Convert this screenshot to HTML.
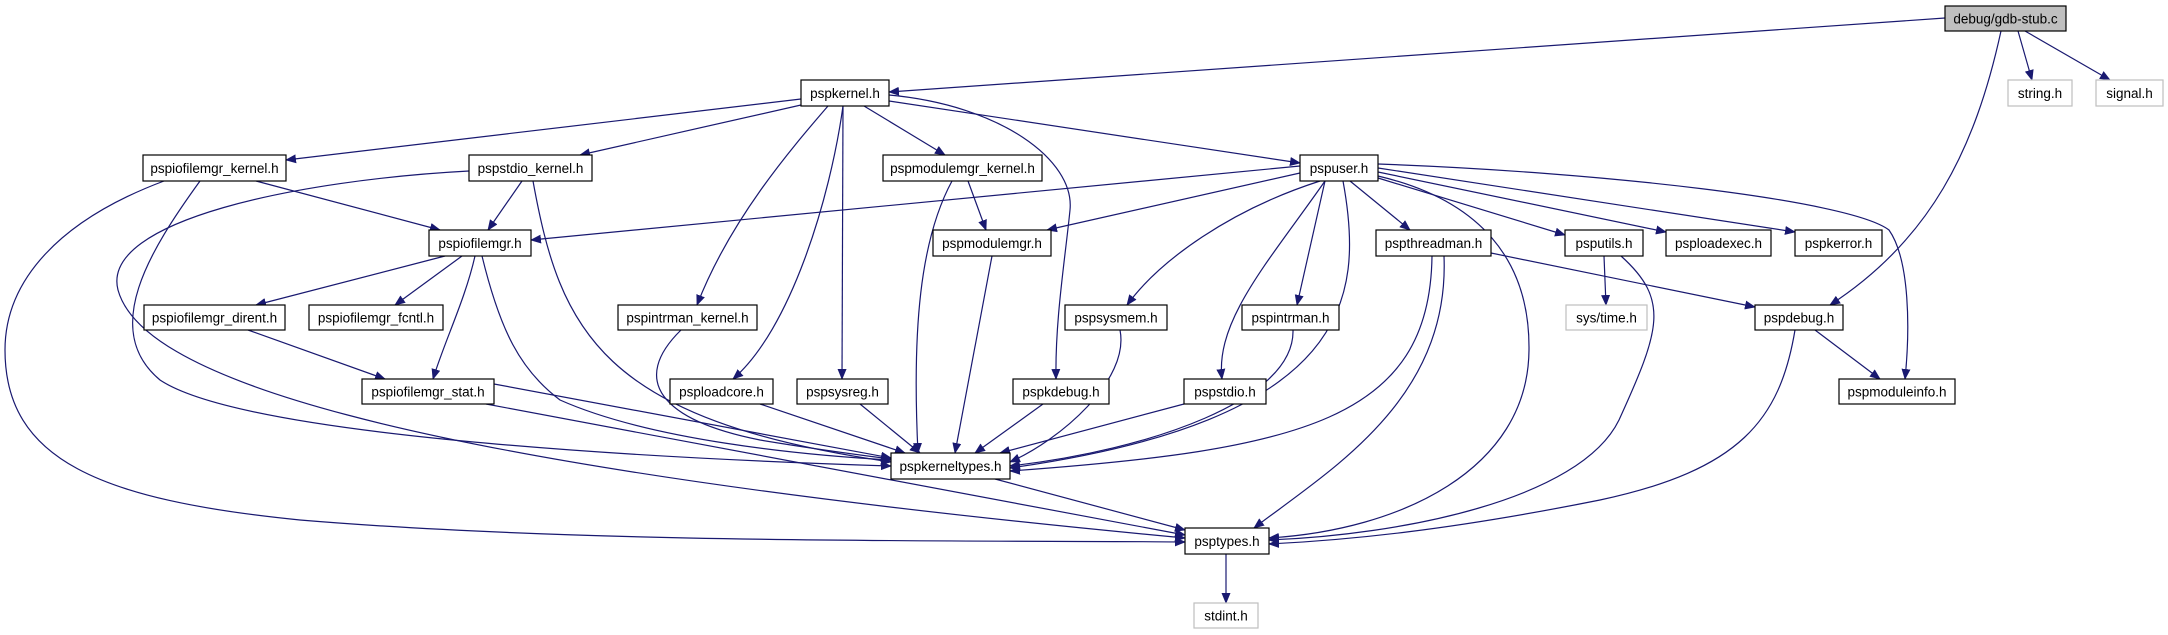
<!DOCTYPE html>
<html><head><meta charset="utf-8"><style>
html,body{margin:0;padding:0;background:#fff;}
svg{display:block;}
text{font-family:"Liberation Sans",sans-serif;font-size:13.5px;fill:#000;text-anchor:middle;}
.e{fill:none;stroke:#191970;stroke-width:1.2;marker-end:url(#a);}
.n{fill:#fff;stroke:#000;stroke-width:1.2;}
.x{fill:#fff;stroke:#bfbfbf;stroke-width:1.2;}
</style></head><body>
<svg width="2168" height="635" viewBox="0 0 2168 635" xmlns="http://www.w3.org/2000/svg">
<defs><marker id="a" markerWidth="11" markerHeight="9" refX="10" refY="4.5" orient="auto" markerUnits="userSpaceOnUse"><path d="M0,0 L11,4.5 L0,9 z" fill="#191970"/></marker></defs>
<g>
<path class="e" d="M1945,18 L889,92"/>
<path class="e" d="M2018,31 L2032,80"/>
<path class="e" d="M2025,31 L2110,80"/>
<path class="e" d="M2001,31 C1975,150 1930,240 1830,305"/>
<path class="e" d="M801,99 L286,160"/>
<path class="e" d="M801,105 L580,155"/>
<path class="e" d="M864,106 L945,155"/>
<path class="e" d="M889,101 L1300,163"/>
<path class="e" d="M828,106 C790,150 730,220 697,305"/>
<path class="e" d="M843,106 C830,200 790,330 733,379"/>
<path class="e" d="M843,106 L842,379"/>
<path class="e" d="M889,95 C1000,105 1075,160 1070,210 C1065,260 1055,320 1056,379"/>
<path class="e" d="M256,181 L440,230"/>
<path class="e" d="M200,181 C150,250 100,330 160,380 C250,440 700,460 891,466"/>
<path class="e" d="M164,181 C60,220 5,280 5,350 C5,460 100,500 300,520 C600,545 1000,540 1185,542"/>
<path class="e" d="M522,181 L488,230"/>
<path class="e" d="M469,171 C300,180 100,220 118,290 C140,370 350,460 1185,538"/>
<path class="e" d="M533,181 C560,330 600,420 891,462"/>
<path class="e" d="M968,181 L986,230"/>
<path class="e" d="M952,181 C920,240 912,330 918,453"/>
<path class="e" d="M1300,166 L531,240"/>
<path class="e" d="M1300,173 L1047,230"/>
<path class="e" d="M1350,181 L1410,230"/>
<path class="e" d="M1378,178 L1565,235"/>
<path class="e" d="M1378,172 L1666,232"/>
<path class="e" d="M1378,168 L1795,232"/>
<path class="e" d="M1378,164 C1600,172 1850,200 1889,230 C1910,260 1910,330 1905,379"/>
<path class="e" d="M1320,181 C1230,210 1160,260 1127,305"/>
<path class="e" d="M1325,181 L1297,305"/>
<path class="e" d="M1325,181 C1270,260 1215,320 1222,379"/>
<path class="e" d="M1343,181 C1365,300 1350,420 1010,468"/>
<path class="e" d="M1378,176 C1480,200 1530,260 1529,350 C1528,470 1400,530 1269,538"/>
<path class="e" d="M1432,256 C1430,420 1300,450 1010,471"/>
<path class="e" d="M1444,256 C1450,400 1330,470 1254,528"/>
<path class="e" d="M1491,253 L1755,307"/>
<path class="e" d="M1604,256 L1606,305"/>
<path class="e" d="M1621,256 C1670,300 1660,330 1619,420 C1580,500 1400,535 1269,540"/>
<path class="e" d="M1815,330 L1880,379"/>
<path class="e" d="M1795,330 C1780,420 1740,470 1600,500 C1450,530 1350,540 1269,544"/>
<path class="e" d="M445,256 L256,305"/>
<path class="e" d="M462,256 L395,305"/>
<path class="e" d="M475,256 C465,300 445,340 433,379"/>
<path class="e" d="M482,256 C500,330 520,370 560,400 C650,440 800,455 891,460"/>
<path class="e" d="M248,330 L385,379"/>
<path class="e" d="M494,384 L891,458"/>
<path class="e" d="M486,404 L1185,535"/>
<path class="e" d="M681,330 C630,380 660,420 760,440 C820,450 860,455 891,459"/>
<path class="e" d="M760,404 L905,453"/>
<path class="e" d="M860,404 L920,453"/>
<path class="e" d="M1043,404 L975,453"/>
<path class="e" d="M1184,404 L1000,453"/>
<path class="e" d="M992,256 L955,453"/>
<path class="e" d="M1120,330 C1130,380 1060,440 1010,462"/>
<path class="e" d="M1293,330 C1295,400 1150,450 1010,466"/>
<path class="e" d="M995,479 L1185,530"/>
<path class="e" d="M1226,554 L1226,603"/>
</g>
<g>
<rect x="1945" y="6" width="121" height="25" fill="#bfbfbf" stroke="#000" stroke-width="1.2"/><text x="2005.5" y="23.5">debug/gdb-stub.c</text>
<rect class="x" x="2008" y="80" width="64" height="26"/><text x="2040" y="98">string.h</text>
<rect class="x" x="2096" y="80" width="67" height="26"/><text x="2129.5" y="98">signal.h</text>
<rect class="n" x="801" y="80" width="88" height="26"/><text x="845" y="98">pspkernel.h</text>
<rect class="n" x="143" y="155" width="143" height="26"/><text x="214.5" y="173">pspiofilemgr_kernel.h</text>
<rect class="n" x="469" y="155" width="123" height="26"/><text x="530.5" y="173">pspstdio_kernel.h</text>
<rect class="n" x="883" y="155" width="159" height="26"/><text x="962.5" y="173">pspmodulemgr_kernel.h</text>
<rect class="n" x="1300" y="155" width="78" height="26"/><text x="1339" y="173">pspuser.h</text>
<rect class="n" x="429" y="230" width="102" height="26"/><text x="480" y="248">pspiofilemgr.h</text>
<rect class="n" x="933" y="230" width="118" height="26"/><text x="992" y="248">pspmodulemgr.h</text>
<rect class="n" x="1376" y="230" width="115" height="26"/><text x="1433.5" y="248">pspthreadman.h</text>
<rect class="n" x="1565" y="230" width="78" height="26"/><text x="1604" y="248">psputils.h</text>
<rect class="n" x="1666" y="230" width="105" height="26"/><text x="1718.5" y="248">psploadexec.h</text>
<rect class="n" x="1795" y="230" width="87" height="26"/><text x="1838.5" y="248">pspkerror.h</text>
<rect class="n" x="144" y="305" width="141" height="25"/><text x="214.5" y="322.5">pspiofilemgr_dirent.h</text>
<rect class="n" x="309" y="305" width="134" height="25"/><text x="376" y="322.5">pspiofilemgr_fcntl.h</text>
<rect class="n" x="618" y="305" width="139" height="25"/><text x="687.5" y="322.5">pspintrman_kernel.h</text>
<rect class="n" x="1065" y="305" width="102" height="25"/><text x="1116" y="322.5">pspsysmem.h</text>
<rect class="n" x="1242" y="305" width="97" height="25"/><text x="1290.5" y="322.5">pspintrman.h</text>
<rect class="x" x="1566" y="305" width="81" height="25"/><text x="1606.5" y="322.5">sys/time.h</text>
<rect class="n" x="1755" y="305" width="88" height="25"/><text x="1799" y="322.5">pspdebug.h</text>
<rect class="n" x="362" y="379" width="132" height="25"/><text x="428" y="396.5">pspiofilemgr_stat.h</text>
<rect class="n" x="670" y="379" width="103" height="25"/><text x="721.5" y="396.5">psploadcore.h</text>
<rect class="n" x="797" y="379" width="91" height="25"/><text x="842.5" y="396.5">pspsysreg.h</text>
<rect class="n" x="1013" y="379" width="96" height="25"/><text x="1061" y="396.5">pspkdebug.h</text>
<rect class="n" x="1184" y="379" width="82" height="25"/><text x="1225" y="396.5">pspstdio.h</text>
<rect class="n" x="1839" y="379" width="116" height="25"/><text x="1897" y="396.5">pspmoduleinfo.h</text>
<rect class="n" x="891" y="453" width="119" height="26"/><text x="950.5" y="471">pspkerneltypes.h</text>
<rect class="n" x="1185" y="528" width="84" height="26"/><text x="1227" y="546">psptypes.h</text>
<rect class="x" x="1194" y="603" width="64" height="25"/><text x="1226" y="620.5">stdint.h</text>
</g>
</svg>
</body></html>
